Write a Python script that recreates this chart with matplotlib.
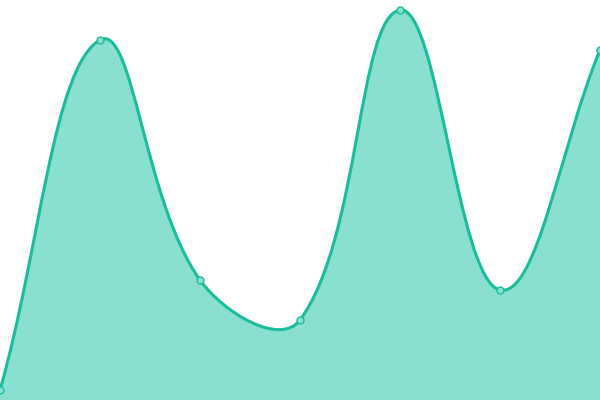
import numpy as np
import matplotlib
matplotlib.use("Agg")
import matplotlib.pyplot as plt
from matplotlib.path import Path
from matplotlib.patches import PathPatch

# data
x_vals = [0, 1, 2, 3, 4, 5, 6]
y_vals = [10, 360, 120, 80, 390, 110, 350]

line_color = "#1abc9c"
fill_color = "#8ae0d0"
tension = 0.4

fig = plt.figure(figsize=(6, 4), dpi=100)
ax = fig.add_axes([0, 0, 1, 1])
ax.set_xlim(0, 6)
ax.set_ylim(0, 400)
ax.axis("off")

# work in pixel space so the spline matches a canvas-drawn curve
pts = ax.transData.transform(np.column_stack([x_vals, y_vals]))
n = len(pts)
cps = []
for i in range(n):
    prev = pts[i - 1] if i > 0 else pts[i]
    cur = pts[i]
    nxt = pts[i + 1] if i < n - 1 else pts[i]
    d01 = np.hypot(*(cur - prev))
    d12 = np.hypot(*(nxt - cur))
    tot = d01 + d12
    s01 = d01 / tot if tot else 0
    s12 = d12 / tot if tot else 0
    c_prev = cur - tension * s01 * (nxt - prev)
    c_next = cur + tension * s12 * (nxt - prev)
    cps.append((c_prev, c_next))

verts = [pts[0]]
codes = [Path.MOVETO]
for i in range(1, n):
    verts += [cps[i - 1][1], cps[i][0], pts[i]]
    codes += [Path.CURVE4] * 3

inv = ax.transData.inverted()
data_verts = inv.transform(np.array(verts))
line_path = Path(data_verts, codes)

fill_verts = list(data_verts) + [(x_vals[-1], 0), (x_vals[0], 0), data_verts[0]]
fill_codes = codes + [Path.LINETO, Path.LINETO, Path.CLOSEPOLY]
ax.add_patch(PathPatch(Path(fill_verts, fill_codes), facecolor=fill_color,
                       edgecolor="none", clip_on=True))
ax.add_patch(PathPatch(line_path, facecolor="none", edgecolor=line_color,
                       linewidth=2.2, clip_on=True))

ax.plot(x_vals, y_vals, linestyle="none", marker="o", markersize=5,
        markerfacecolor=fill_color, markeredgecolor=line_color,
        markeredgewidth=1, clip_on=True)

fig.savefig("out.png", dpi=100)
